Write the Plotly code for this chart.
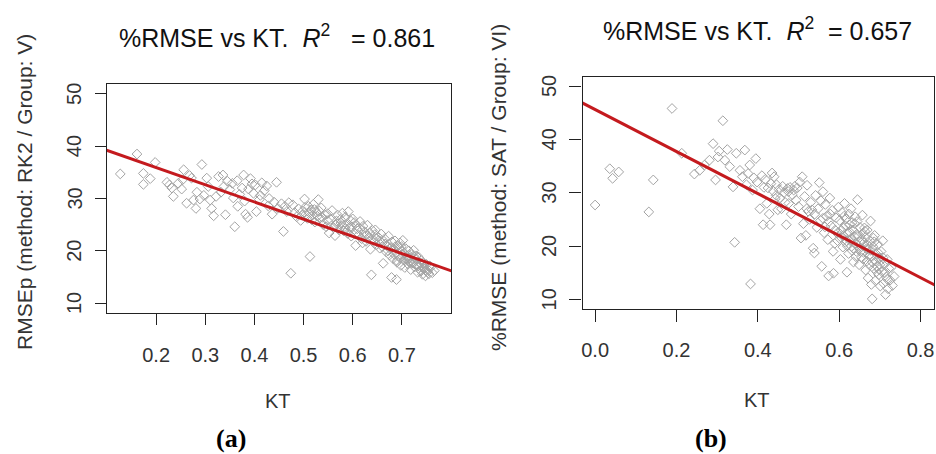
import plotly.graph_objects as go

W, H = 936, 454

# ---------------- Panel (a) data: KT vs RMSEp (RK2 / Group V) ----------------
kt_a = [0.127, 0.161, 0.174, 0.174, 0.188, 0.198, 0.222, 0.235, 0.232, 0.256, 0.254, 0.252, 0.262, 0.272, 0.276,
        0.281, 0.289, 0.293, 0.268, 0.283, 0.245, 0.227, 0.297,
        0.303, 0.306, 0.310, 0.313, 0.317, 0.327, 0.336, 0.338, 0.341, 0.350, 0.357, 0.360, 0.366, 0.375, 0.378,
        0.382, 0.386, 0.392, 0.395, 0.398, 0.404, 0.410, 0.415, 0.420, 0.425, 0.430, 0.436, 0.440, 0.445, 0.345,
        0.370, 0.388, 0.402, 0.412, 0.332, 0.322, 0.355, 0.365, 0.380, 0.428, 0.448,
        0.455, 0.459, 0.462, 0.466, 0.470, 0.474, 0.478, 0.482, 0.486, 0.490, 0.494, 0.498, 0.502, 0.505, 0.508,
        0.510, 0.513, 0.515, 0.518, 0.520, 0.523, 0.526, 0.530, 0.533, 0.536, 0.540, 0.543, 0.546, 0.549, 0.512,
        0.517, 0.522, 0.528, 0.497, 0.503,
        0.552, 0.555, 0.558, 0.561, 0.564, 0.567, 0.570, 0.573, 0.576, 0.579, 0.582, 0.585, 0.588, 0.591, 0.594,
        0.597, 0.600, 0.603, 0.606, 0.609, 0.612, 0.615, 0.618, 0.621, 0.624, 0.627, 0.630, 0.633, 0.636, 0.638,
        0.640, 0.643, 0.646, 0.649, 0.575, 0.585, 0.595, 0.605, 0.615, 0.625, 0.635, 0.645, 0.565, 0.590, 0.620,
        0.652, 0.655, 0.658, 0.660, 0.662, 0.665, 0.668, 0.670, 0.673, 0.675, 0.677, 0.679, 0.680, 0.682, 0.684,
        0.686, 0.688, 0.689, 0.690, 0.692, 0.694, 0.696, 0.698, 0.700, 0.702, 0.704, 0.706, 0.708, 0.710, 0.712,
        0.714, 0.716, 0.718, 0.720, 0.722, 0.724, 0.726, 0.728, 0.730, 0.732, 0.734, 0.736, 0.738, 0.740, 0.742,
        0.744, 0.746, 0.748, 0.750, 0.752, 0.755, 0.758, 0.762, 0.766, 0.672, 0.685, 0.695, 0.705, 0.715, 0.725,
        0.735, 0.745, 0.660, 0.690,
        0.532, 0.538, 0.548, 0.568, 0.578, 0.598, 0.608, 0.628, 0.648, 0.656, 0.666, 0.676, 0.687, 0.697, 0.703,
        0.713, 0.723, 0.733, 0.743, 0.753, 0.757, 0.699, 0.709, 0.719, 0.729, 0.739, 0.749]
rmse_a = [34.7, 38.5, 34.8, 32.7, 33.8, 36.9, 33.1, 30.4, 32.0, 35.5, 33.6, 31.8, 29.1, 33.9, 29.7,
          28.1, 29.9, 36.5, 34.4, 31.2, 32.9, 32.6, 30.6,
          33.9, 32.3, 29.7, 28.1, 26.7, 34.2, 34.5, 32.3, 26.9, 31.7, 30.1, 24.6, 28.5, 32.0, 34.5,
          27.0, 26.4, 33.8, 32.8, 31.0, 27.5, 29.8, 33.0, 31.5, 32.4, 30.0, 27.0, 29.3, 33.1, 33.3,
          30.8, 31.8, 32.6, 30.6, 31.2, 30.4, 32.9, 33.4, 29.5, 28.6, 28.1,
          29.0, 23.7, 28.5, 27.5, 29.2, 15.7, 28.8, 27.3, 26.5, 28.0, 25.8, 27.6, 29.9, 27.0, 26.2,
          28.5, 18.9, 27.8, 26.8, 28.9, 25.5, 27.4, 29.8, 26.3, 28.2, 25.0, 26.9, 24.6, 27.1, 27.3,
          25.9, 27.9, 26.6, 26.8, 28.3,
          23.4, 26.0, 27.7, 24.4, 22.9, 25.7, 26.8, 24.0, 25.3, 27.2, 23.8, 26.4, 25.0, 27.5, 24.5,
          22.8, 26.1, 25.4, 21.0, 24.2, 23.0, 25.6, 22.3, 24.7, 23.6, 21.8, 24.9, 22.6, 20.3, 15.4,
          23.9, 22.0, 24.0, 21.2, 26.0, 24.3, 25.8, 23.2, 24.2, 22.9, 23.4, 23.1, 24.9, 23.3, 21.5,
          22.6, 20.5, 23.2, 21.5, 17.6, 22.3, 19.8, 21.0, 22.8, 19.2, 20.6, 14.9, 21.7, 18.5, 20.2,
          21.9, 19.5, 14.5, 17.8, 20.9, 18.9, 21.5, 17.2, 19.9, 22.0, 18.2, 16.8, 20.4, 19.0, 17.5,
          20.0, 18.6, 16.4, 19.3, 17.9, 20.1, 16.9, 18.4, 17.3, 15.9, 18.8, 17.0, 16.3, 18.1, 15.5,
          17.6, 16.6, 15.2, 17.4, 16.0, 15.6, 16.8, 15.8, 16.2, 20.0, 19.3, 20.5, 19.6, 18.0, 18.9,
          17.8, 16.9, 20.8, 18.1,
          27.6, 26.4, 25.8, 25.2, 24.7, 24.6, 24.8, 23.0, 22.4, 21.8, 21.3, 20.4, 20.8, 18.6, 19.2,
          18.5, 17.6, 17.1, 16.7, 16.4, 17.1, 20.8, 18.4, 17.7, 19.0, 16.1, 16.2]
fit_a = [42.5, -32.9]   # intercept, slope

# ---------------- Panel (b) data: KT vs %RMSE (SAT / Group VI) ----------------
kt_b = [0.000, 0.036, 0.043, 0.058, 0.132, 0.143, 0.189, 0.213, 0.244, 0.257, 0.269, 0.281, 0.296, 0.290, 0.302,
        0.314, 0.319, 0.331, 0.339, 0.343, 0.347, 0.368, 0.356, 0.376, 0.380, 0.387, 0.395, 0.382, 0.325, 0.305,
        0.362, 0.372, 0.390, 0.398,
        0.405, 0.410, 0.413, 0.418, 0.422, 0.425, 0.428, 0.430, 0.432, 0.435, 0.438, 0.440, 0.443, 0.446, 0.449,
        0.452, 0.455, 0.458, 0.461, 0.464, 0.467, 0.470, 0.473, 0.476, 0.479, 0.482, 0.485, 0.488, 0.491, 0.494,
        0.497, 0.500, 0.415, 0.445, 0.475,
        0.503, 0.506, 0.509, 0.512, 0.515, 0.518, 0.521, 0.524, 0.527, 0.530, 0.533, 0.536, 0.539, 0.542, 0.545,
        0.548, 0.551, 0.554, 0.557, 0.560, 0.563, 0.566, 0.569, 0.572, 0.574, 0.577, 0.580, 0.583, 0.586, 0.589,
        0.592, 0.595, 0.598, 0.520, 0.540, 0.560, 0.575, 0.590, 0.555, 0.585,
        0.601, 0.603, 0.605, 0.607, 0.609, 0.611, 0.613, 0.615, 0.617, 0.619, 0.621, 0.623, 0.625, 0.627, 0.629,
        0.631, 0.633, 0.635, 0.637, 0.639, 0.641, 0.643, 0.645, 0.647, 0.649, 0.651, 0.653, 0.655, 0.657, 0.659,
        0.661, 0.663, 0.665, 0.667, 0.669, 0.671, 0.673, 0.675, 0.677, 0.679, 0.681, 0.681, 0.683, 0.685, 0.687,
        0.689, 0.691, 0.693, 0.695, 0.697, 0.699, 0.701, 0.703, 0.705, 0.707, 0.709, 0.711, 0.714, 0.716, 0.718,
        0.720, 0.722, 0.725, 0.728, 0.731, 0.735, 0.610, 0.620, 0.630, 0.640, 0.650, 0.660, 0.670, 0.680, 0.690,
        0.700, 0.615, 0.635, 0.655, 0.675, 0.695, 0.644, 0.664, 0.624,
        0.605, 0.618, 0.626, 0.638, 0.646, 0.652, 0.662, 0.668, 0.678, 0.686, 0.692, 0.704, 0.712, 0.565, 0.578,
        0.596, 0.612, 0.632, 0.642, 0.658, 0.672, 0.684, 0.698, 0.708, 0.718]
rmse_b = [27.7, 34.5, 32.7, 33.9, 26.4, 32.4, 45.8, 37.4, 33.5, 34.2, 35.2, 36.1, 32.4, 39.2, 36.7,
          43.5, 36.1, 34.9, 31.1, 20.7, 37.4, 38.0, 34.2, 33.6, 35.2, 30.5, 36.4, 12.9, 38.1, 37.8,
          33.0, 31.5, 32.8, 32.0,
          27.0, 33.2, 24.0, 32.5, 28.0, 30.9, 26.0, 24.0, 31.7, 33.7, 30.3, 33.0, 28.9, 31.5, 26.8,
          30.6, 29.0, 27.0, 31.2, 30.0, 28.2, 24.0, 30.8, 28.0, 31.0, 26.0, 29.6, 30.5, 31.2, 28.6,
          30.9, 27.4, 31.0, 29.5, 30.2,
          32.0, 21.5, 33.0, 24.2, 29.3, 22.0, 31.4, 26.5, 25.0, 28.2, 26.8, 19.6, 18.7, 29.5, 23.5,
          27.0, 31.9, 24.8, 16.2, 30.2, 22.5, 27.8, 25.6, 21.2, 14.4, 29.0, 23.8, 26.7, 14.9, 20.5,
          25.3, 22.4, 27.3, 27.0, 26.0, 25.2, 24.6, 23.0, 28.5, 19.0,
          24.8, 17.5, 21.6, 26.3, 19.8, 23.4, 28.0, 20.7, 25.1, 15.1, 22.5, 18.6, 24.0, 21.0, 27.0,
          19.2, 23.0, 17.0, 21.8, 25.5, 18.0, 22.2, 28.7, 20.0, 16.5, 23.5, 19.0, 21.3, 25.8, 17.6,
          20.6, 22.8, 15.5, 19.5, 23.0, 14.0, 18.2, 21.0, 24.7, 12.8, 10.1, 17.0, 19.9, 15.8, 22.0,
          13.5, 18.5, 16.2, 20.3, 14.6, 17.8, 12.5, 19.0, 15.2, 21.0, 13.0, 16.8, 10.9, 14.2, 17.5,
          12.0, 15.8, 13.6, 16.0, 12.6, 14.3, 22.0, 20.0, 21.5, 20.5, 19.5, 18.8, 20.2, 18.0, 17.2,
          16.5, 23.8, 19.6, 17.8, 16.4, 18.8, 24.6, 21.6, 26.0,
          23.0, 21.0, 22.6, 24.2, 21.8, 20.8, 23.4, 17.2, 19.2, 20.8, 15.2, 17.4, 15.0, 23.6, 26.0,
          21.0, 25.6, 24.4, 19.0, 22.4, 19.4, 21.5, 15.6, 17.8, 13.8]
fit_b = [45.6, -39.4]

titles = ["%RMSE vs KT.  <i>R</i><sup>2</sup>   = 0.861", "%RMSE vs KT.  <i>R</i><sup>2</sup>  = 0.657"]
ytitles = ["RMSEp (method: RK2 / Group: V)", "%RMSE (method: SAT / Group: VI)"]
xtitle = "KT"
panel_labels = ["(a)", "(b)"]
xticks_a = [0.2, 0.3, 0.4, 0.5, 0.6, 0.7]
xticks_b = [0.0, 0.2, 0.4, 0.6, 0.8]
xticktext_b = ["0.0", "0.2", "0.4", "0.6", "0.8"]
yticks = [10, 20, 30, 40, 50]

PT_COL = "#A3A3A3"
LINE_COL = "#C41A1E"
TXT_COL = "#333333"
FONT = "Liberation Sans, Arial, sans-serif"


def px(x):
    return x / W


def py(y):
    return 1 - y / H


fig = go.Figure()

marker = dict(symbol="diamond-open", size=7.5, color=PT_COL, line=dict(width=1, color=PT_COL))
fig.add_trace(go.Scatter(x=kt_a, y=rmse_a, mode="markers", xaxis="x", yaxis="y", marker=marker,
                         showlegend=False, hoverinfo="skip"))
xa_line = [0.0, 1.0]
fig.add_trace(go.Scatter(x=xa_line, y=[fit_a[0] + fit_a[1] * v for v in xa_line], mode="lines",
                         xaxis="x", yaxis="y", line=dict(color=LINE_COL, width=3), showlegend=False))

fig.add_trace(go.Scatter(x=kt_b, y=rmse_b, mode="markers", xaxis="x2", yaxis="y2", marker=marker,
                         showlegend=False, hoverinfo="skip"))
xb_line = [-0.1, 1.0]
fig.add_trace(go.Scatter(x=xb_line, y=[fit_b[0] + fit_b[1] * v for v in xb_line], mode="lines",
                         xaxis="x2", yaxis="y2", line=dict(color=LINE_COL, width=3), showlegend=False))

tickfont = dict(family=FONT, size=20, color=TXT_COL)
common_axis = dict(showgrid=False, zeroline=False, showline=True, mirror=True, linecolor="#222222",
                   linewidth=1.3, ticks="outside", tickcolor="#222222", tickwidth=1.2, tickfont=tickfont)

fig.update_layout(
    width=W, height=H, margin=dict(l=0, r=0, t=0, b=0),
    paper_bgcolor="white", plot_bgcolor="white",
    xaxis=dict(domain=[px(107), px(451)], range=[0.1, 0.8], tickvals=xticks_a, ticklen=11,
               ticklabelstandoff=13, anchor="y", **common_axis),
    yaxis=dict(domain=[py(313), py(84)], range=[8.1, 51.9], tickvals=yticks, ticklen=11,
               showticklabels=False, anchor="x", **common_axis),
    xaxis2=dict(domain=[px(582.5), px(934)], range=[-0.031, 0.833], tickvals=xticks_b, ticktext=xticktext_b,
                ticklen=12, ticklabelstandoff=11, anchor="y2", **common_axis),
    yaxis2=dict(domain=[py(309), py(77)], range=[8.2, 51.7], tickvals=yticks, ticklen=12,
                showticklabels=False, anchor="x2", **common_axis),
)

ann = []
# titles
ann.append(dict(x=px(277), y=py(36), text=titles[0], xref="paper", yref="paper",
                font=dict(family=FONT, size=25, color="#111111")))
ann.append(dict(x=px(757), y=py(29), text=titles[1], xref="paper", yref="paper",
                font=dict(family=FONT, size=25, color="#111111")))
# x titles
ann.append(dict(x=px(278), y=py(401), text=xtitle, xref="paper", yref="paper",
                font=dict(family=FONT, size=20, color=TXT_COL)))
ann.append(dict(x=px(757), y=py(400), text=xtitle, xref="paper", yref="paper",
                font=dict(family=FONT, size=20, color=TXT_COL)))
# y titles
ann.append(dict(x=px(25), y=py(192), text=ytitles[0], textangle=-90, xref="paper", yref="paper",
                font=dict(family=FONT, size=21, color=TXT_COL)))
ann.append(dict(x=px(498), y=py(188), text=ytitles[1], textangle=-90, xref="paper", yref="paper",
                font=dict(family=FONT, size=21, color=TXT_COL)))
# y tick labels (R style, parallel to axis)
for v in yticks:
    ann.append(dict(x=px(74), y=v, text=str(v), textangle=-90, xref="paper", yref="y",
                    font=dict(family=FONT, size=20, color=TXT_COL)))
    ann.append(dict(x=px(549), y=v, text=str(v), textangle=-90, xref="paper", yref="y2",
                    font=dict(family=FONT, size=20, color=TXT_COL)))
for a in ann:
    a.update(showarrow=False, xanchor="center", yanchor="middle")
# panel labels
for xc, lab in zip([231, 711], panel_labels):
    ann.append(dict(x=px(xc), y=0, text="<b>" + lab + "</b>", xref="paper", yref="paper",
                    showarrow=False, xanchor="center", yanchor="bottom", borderpad=0,
                    font=dict(family="Liberation Serif, Times New Roman, serif", size=26, color="black")))
fig.update_layout(annotations=ann)

fig.write_html("out.html")
